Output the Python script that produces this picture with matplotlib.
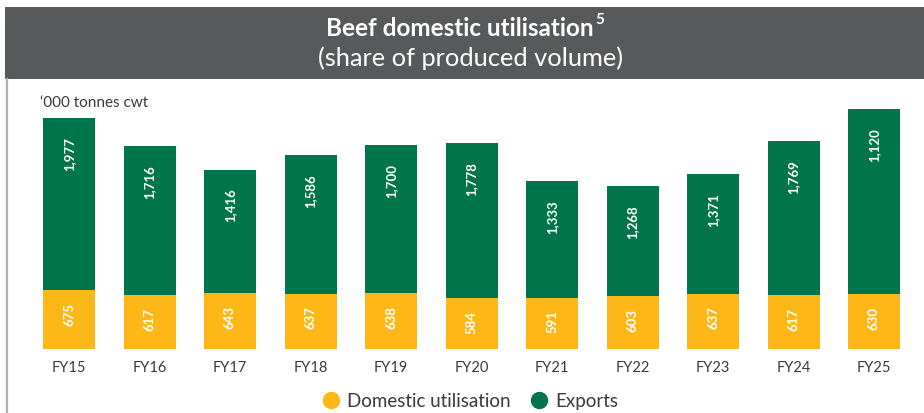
import matplotlib
matplotlib.use("Agg")
import matplotlib.pyplot as plt
from matplotlib.patches import Rectangle
from matplotlib.lines import Line2D

plt.rcParams['font.family'] = ['Lato', 'DejaVu Sans']

years = ["FY15", "FY16", "FY17", "FY18", "FY19", "FY20", "FY21", "FY22", "FY23", "FY24", "FY25"]
domestic = [675, 617, 643, 637, 638, 584, 591, 603, 637, 617, 630]
exports = [1977, 1716, 1416, 1586, 1700, 1778, 1333, 1268, 1371, 1769, 2120]
export_labels = ["1,977", "1,716", "1,416", "1,586", "1,700", "1,778", "1,333", "1,268", "1,371", "1,769", "1,120"]
domestic_labels = [f"{v:,}" for v in domestic]

ORANGE = "#FDB817"
GREEN = "#00754B"
GREY_BOX = "#58595B"
TEXT = "#3a3a3a"

W, H = 924, 414
fig = plt.figure(figsize=(W / 100, H / 100), dpi=100)

def fx(px):
    return px / W

def fy(py):
    return 1 - py / H

# title box
fig.patches.append(Rectangle((fx(5), fy(80)), fx(924 - 5), (72) / H, transform=fig.transFigure,
                             facecolor=GREY_BOX, edgecolor="none", zorder=0))
# left grey rule
fig.add_artist(Line2D([fx(7), fx(7)], [fy(80), 0], transform=fig.transFigure, color="#b0b0b0", lw=1.6))

t1 = fig.text(fx(460), fy(29), "Beef domestic utilisation", color="white", fontsize=17.5,
              fontweight="bold", ha="center", va="center")
t2 = fig.text(fx(470), fy(58), "(share of produced volume)", color="white", fontsize=18.3,
              ha="center", va="center")
fig.canvas.draw()
r = fig.canvas.get_renderer()
bb = t1.get_window_extent(renderer=r)
fig.text(bb.x1 / W + 1 / W, fy(20), "5", color="white", fontsize=11, fontweight="bold",
         ha="left", va="center")

fig.text(fx(40), fy(103), "\u2018000 tonnes cwt", color=TEXT, fontsize=11, ha="left", va="center")

# axes: center of bar 0 at 69 px, bar 10 at 874 px
step = (874 - 69) / 10
ax_left, ax_right = 10, 914
ax_top, ax_bottom = 100, 350
ax = fig.add_axes([fx(ax_left), fy(ax_bottom), (ax_right - ax_left) / W, (ax_bottom - ax_top) / H])
ax.set_xlim(-(69 - ax_left) / step, 10 + (ax_right - 874) / step)
scale = 11.48
ax.set_ylim(0, (ax_bottom - ax_top) * scale)

x = list(range(len(years)))
bw = 52 / step
ax.bar(x, domestic, width=bw, color=ORANGE, linewidth=0)
ax.bar(x, exports, width=bw, bottom=domestic, color=GREEN, linewidth=0)

for i in x:
    ax.annotate(domestic_labels[i], (i, domestic[i]), xytext=(0, -8.5), textcoords="offset points",
                rotation=90, ha="center", va="top", color="white", fontsize=9.5, fontweight="bold")
    ax.annotate(export_labels[i], (i, domestic[i] + exports[i]), xytext=(0, -13), textcoords="offset points",
                rotation=90, ha="center", va="top", color="white", fontsize=9.5, fontweight="bold")

ax.set_xticks(x)
ax.set_xticklabels(years, fontsize=10.5, color=TEXT)
ax.tick_params(axis="x", length=0, pad=8)
ax.set_yticks([])
for s in ax.spines.values():
    s.set_visible(False)
ax.patch.set_alpha(0)

handles = [Line2D([], [], marker="o", ls="none", markersize=11.5, color=ORANGE, label="Domestic utilisation"),
           Line2D([], [], marker="o", ls="none", markersize=11.5, color=GREEN, label="Exports")]
fig.legend(handles=handles, loc="center", bbox_to_anchor=(fx(470), fy(402)), ncol=2, frameon=False,
           fontsize=13.5, handlelength=1.0, handletextpad=0.35, columnspacing=1.0,
           labelcolor=TEXT, borderpad=0)

fig.savefig("out.png", dpi=100)
